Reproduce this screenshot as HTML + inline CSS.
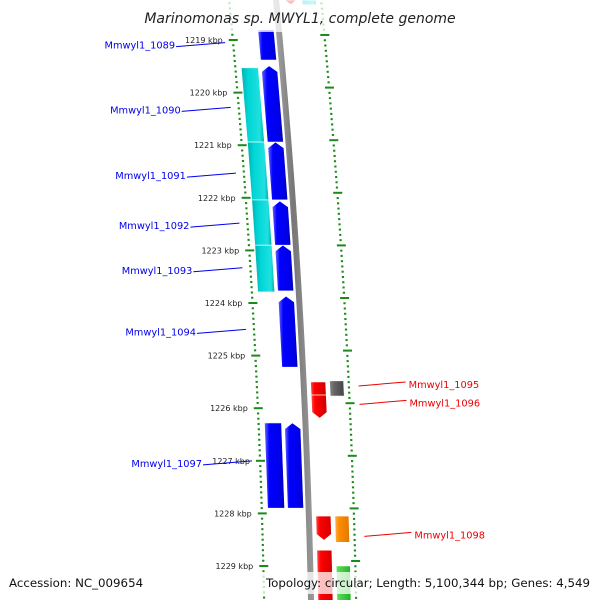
<!DOCTYPE html>
<html><head><meta charset="utf-8"><style>
body{margin:0;background:#fff;}
svg{display:block;font-family:"DejaVu Sans","Liberation Sans",sans-serif;}
</style></head><body>
<svg id="map" width="600" height="600" viewBox="0 0 600 600" xmlns="http://www.w3.org/2000/svg">
<defs>
<linearGradient id="gBlue" x1="0" x2="1"><stop offset="0" stop-color="#6a6aff"/><stop offset="0.25" stop-color="#0000ff"/><stop offset="0.8" stop-color="#0000e6"/><stop offset="1" stop-color="#0000b0"/></linearGradient>
<linearGradient id="gCyan" x1="0" x2="1"><stop offset="0" stop-color="#00b0b0"/><stop offset="0.3" stop-color="#00d6d6"/><stop offset="0.8" stop-color="#20e0e0"/><stop offset="1" stop-color="#00a8a8"/></linearGradient>
<linearGradient id="gRed" x1="0" x2="1"><stop offset="0" stop-color="#ff5050"/><stop offset="0.25" stop-color="#ff0000"/><stop offset="1" stop-color="#d00000"/></linearGradient>
<linearGradient id="gGray" x1="0" x2="1"><stop offset="0" stop-color="#888"/><stop offset="0.3" stop-color="#666"/><stop offset="1" stop-color="#444"/></linearGradient>
<linearGradient id="gOrange" x1="0" x2="1"><stop offset="0" stop-color="#ffb040"/><stop offset="0.3" stop-color="#ff8c00"/><stop offset="1" stop-color="#e07800"/></linearGradient>
<linearGradient id="gGreen" x1="0" x2="1"><stop offset="0" stop-color="#60e060"/><stop offset="1" stop-color="#20b020"/></linearGradient>
<linearGradient id="gBack" x1="0" x2="1"><stop offset="0" stop-color="#aaa"/><stop offset="0.5" stop-color="#777"/><stop offset="1" stop-color="#999"/></linearGradient>
</defs>
<g id="ticks"></g>
<g id="back"></g>
<g id="genes"></g>
<g id="labels"></g>
<rect x="0" y="0" width="600" height="32" fill="#fff" opacity="0.75"/>
<text x="300" y="23" text-anchor="middle" font-size="14" font-style="italic" fill="#222">Marinomonas sp. MWYL1, complete genome</text>
<rect x="0" y="572" width="600" height="22" fill="#fff" opacity="0.75"/>
<text x="9" y="587" font-size="11.8" fill="#111">Accession: NC_009654</text>
<text x="590" y="587" text-anchor="end" font-size="11.8" fill="#111">Topology: circular; Length: 5,100,344 bp; Genes: 4,549</text>
</svg>
<script>
// kbp tick labels
const kbpTicks = [1219,1220,1221,1222,1223,1224,1225,1226,1227,1228,1229];
// gene features: start/end (kbp), track, colour, direction
const geneStart = [1218.24,1218.24,1218.81,1219.49,1220.94,1222.06,1222.90,1223.87,1226.28,1226.28,1219.53,1220.94,1222.04,1222.90,1225.50,1225.75,1225.48,1228.05,1228.70,1228.05,1229.0];
const geneEnd   = [1218.33,1218.33,1219.38,1220.94,1222.04,1222.90,1223.77,1225.22,1227.90,1227.90,1220.94,1222.04,1222.90,1223.79,1225.75,1226.19,1225.77,1228.51,1229.84,1228.55,1229.84];
const geneTrack = ['r1','r2','l1','l1','l1','l1','l1','l1','l2','l1','l2','l2','l2','l2','r1','r1','r2','r1','r1','r2','r2'];
const geneColor = ['gRed','gCyan','gBlue','gBlue','gBlue','gBlue','gBlue','gBlue','gBlue','gBlue','gCyan','gCyan','gCyan','gCyan','gRed','gRed','gGray','gRed','gRed','gOrange','gGreen'];
const geneArrow = ['down','none','none','up','up','up','up','up','none','up','none','none','none','none','none','down','none','down','none','none','none'];
// labels
const labelNames = ['Mmwyl1_1089','Mmwyl1_1090','Mmwyl1_1091','Mmwyl1_1092','Mmwyl1_1093','Mmwyl1_1094','Mmwyl1_1097','Mmwyl1_1095','Mmwyl1_1096','Mmwyl1_1098'];
const labelPos  = [1219.07,1220.30,1221.55,1222.50,1223.35,1224.52,1227.02,1225.52,1225.87,1228.38];
const labelSide = ['l','l','l','l','l','l','l','r','r','r'];

const NS='http://www.w3.org/2000/svg';
function el(tag,attrs,parent){const e=document.createElementNS(NS,tag);for(const k in attrs)e.setAttribute(k,attrs[k]);parent.appendChild(e);return e;}
const Y0=40, PXK=52.6;
function yOf(k){return Y0+(k-1219)*PXK;}
function bx(y){return 276+0.0965*y-6.36e-5*y*y;}
const trackOff={l2:[-41,-24],l1:[-21,-5],r1:[7,22],r2:[26,40]};

// backbone
const back=document.getElementById('back');
let pts=[];for(let y=-5;y<=605;y+=5)pts.push([bx(y),y]);
let d='M'+pts.map(p=>(p[0]-3)+','+p[1]).join(' L')+' L'+pts.reverse().map(p=>(p[0]+3)+','+p[1]).join(' L')+'Z';
const bb=el('path',{d:d,fill:'url(#gBack)'},back);



// tick rings
const tg=document.getElementById('ticks');
for(let i=-20;i<=120;i++){
  const k=1219+i/10, y=yOf(k);
  if(y<-5||y>605)continue;
  const major=(i%10===0);
  const xl=bx(y)-47;
  const t=el('rect',{x:major?xl-4:xl-1,y:y-1,width:major?9:2.2,height:2,fill:'#1a8a1a'},tg);
  
  
  const yr=y-5, xr=bx(yr)+45;
  const r=el('rect',{x:major?xr-4:xr-1,y:yr-1,width:major?9:2.2,height:2,fill:'#1a8a1a'},tg);
  
  
}
kbpTicks.forEach(k=>{
  const y=yOf(k);
  const t=el('text',{x:bx(y)-57,y:y+3,'text-anchor':'end','font-size':'8',fill:'#222'},tg);
  t.textContent=k+' kbp';
  
  
});

// genes
const gg=document.getElementById('genes');
geneStart.forEach((s,i)=>{
  const y1=yOf(s), y2=yOf(geneEnd[i]);
  const o=trackOff[geneTrack[i]];
  const a=geneArrow[i], ah=6;
  const L=y=>bx(y)+o[0], R=y=>bx(y)+o[1], M=y=>bx(y)+(o[0]+o[1])/2;
  let p;
  if(a==='up') p=[[M(y1),y1],[R(y1+ah),y1+ah],[R(y2),y2],[L(y2),y2],[L(y1+ah),y1+ah]];
  else if(a==='down') p=[[L(y1),y1],[R(y1),y1],[R(y2-ah),y2-ah],[M(y2),y2],[L(y2-ah),y2-ah]];
  else p=[[L(y1),y1],[R(y1),y1],[R(y2),y2],[L(y2),y2]];
  const g=el('polygon',{points:p.map(q=>q.join(',')).join(' '),fill:'url(#'+geneColor[i]+')',stroke:'#fff','stroke-width':'0.6'},gg);
  
  
});

// labels
const lg=document.getElementById('labels');
labelNames.forEach((n,i)=>{
  const y=yOf(labelPos[i]);
  const left=labelSide[i]==='l';
  const col=left?'#0000ee':'#ee0000';
  let x1,x2,tx;
  if(left){x2=bx(y)-55; x1=x2-49; tx=x1-1;}
  else{x1=bx(y)+55; x2=x1+47; tx=x2+3;}
  const ln=el('line',{x1:x1,y1:y+3,x2:x2,y2:y-1,stroke:col,'stroke-width':'1'},lg);
  
  
  const t=el('text',{x:tx,y:y+5,'text-anchor':left?'end':'start','font-size':'9.8',fill:col},lg);
  t.textContent=n;
  
  
});
</script>
</body></html>
